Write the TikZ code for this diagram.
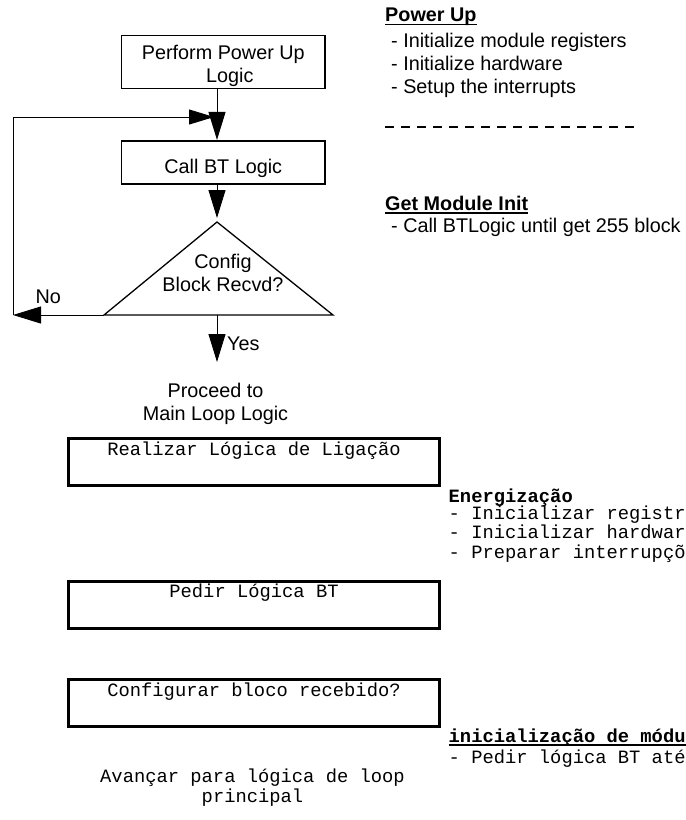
\documentclass[tikz,border=0pt]{standalone}
\usepackage{fontspec}
\setmainfont{Liberation Sans}
\setmonofont{Liberation Mono}
\usetikzlibrary{arrows.meta}

% underline at a fixed offset below the baseline: #1 offset, #2 thickness, #3 text
\newsavebox\ulinebox
\newcommand\ulword[3]{\sbox\ulinebox{#3}\rlap{\rule[#1]{\wd\ulinebox}{#2}}\usebox\ulinebox}

\begin{document}
\begin{tikzpicture}[x=1pt,y=-1pt,
  sans/.style={font=\fontsize{19.8}{23}\selectfont, inner sep=0pt},
  mono/.style={font=\ttfamily\fontsize{18.8}{19.5}\selectfont, inner sep=0pt},
  flowbox/.style={draw, line width=1.7pt, minimum width=203.5pt, sans},
  monobox/.style={draw, line width=3pt, minimum width=371pt, minimum height=47pt,
    mono, text height=11pt, text depth=25pt},
  flow/.style={line width=1pt, -{Triangle[length=28pt,width=17pt]}},
  loopflow/.style={line width=1pt, -{Triangle[length=25pt,width=15pt]}},
  separator/.style={line width=2pt, dash pattern=on 9pt off 7pt}]
\useasboundingbox (0,0) rectangle (686,820);

% ---- flowchart ----
% multi-line nodes sit on the baseline of their last line
\coordinate (trunk) at (217,0);
\node[flowbox, minimum height=53pt, text height=41pt, text depth=0pt, align=center]
  (pwr) at (223.3,62) {Perform Power Up\\\hspace*{13pt}Logic};
\node[flowbox, minimum height=43.5pt, text height=21pt, text depth=0pt]
  (call) at (223.3,162.5) {Call BT Logic};

% decision triangle
\coordinate (apex) at (217,222);
\coordinate (bl) at (104,315);
\coordinate (br) at (333,315);
\draw[line width=1.3pt] (apex) -- (br) -- (bl) -- cycle;
\node[sans, anchor=base, align=center] (cfg) at (223,291) {Config\\Block Recvd?};

\draw[flow] (pwr.south -| trunk) -- (call.north -| trunk);
\draw[flow] (call.south -| trunk) -- ([yshift=4pt]apex);

% "No" branch loops back above the call box
\coordinate (nocorner) at (13,315);
\coordinate (join) at (214,117);
\draw[flow] (bl) -- (nocorner);
\draw[loopflow] (nocorner) |- (join);
\node[sans, anchor=base west] (nolbl) at (35.5,303) {No};

% "Yes" branch
\coordinate (yesend) at (217,362);
\draw[flow] (bl -| trunk) -- (yesend);
\node[sans, anchor=base west] (yeslbl) at (227,350) {Yes};
\node[sans, anchor=base, align=center] (proceed) at (215.5,420) {Proceed to\\Main Loop Logic};

% ---- notes ----
\node[sans, anchor=base west] (puhead) at (385,21.5)
  {\ulword{-3.7pt}{1.5pt}{\textbf{Power Up}}};
\node[sans, anchor=base west, align=left] (pulist) at (391,93)
  {- Initialize module registers\\- Initialize hardware\\- Setup the interrupts};
\draw[separator] (385,127) -- (635,127);
\node[sans, anchor=base west] (gmhead) at (385,210)
  {\ulword{-3.7pt}{1.5pt}{\textbf{Get Module Init}}};
\node[sans, anchor=base west] (gmlist) at (391,232) {- Call BTLogic until get 255 block};

% ---- Portuguese version ----
\node[monobox] (realizar) at (254,462) {Realizar Lógica de Ligação};
\node[monobox] (pedir) at (254,604.5) {Pedir Lógica BT};
\node[monobox] (configurar) at (254,703) {Configurar bloco recebido?};
\node[mono, font=\ttfamily\fontsize{18.8}{20}\selectfont, anchor=base, align=center]
  (avancar) at (252.5,802) {Avançar para lógica de loop\\principal};

\node[mono, anchor=base west] (enhead) at (448.5,502) {\textbf{Energização}};
\node[mono, anchor=base west, align=left] (enlist) at (448.5,558)
  {- Inicializar registradores\\- Inicializar hardware\\- Preparar interrupções};
\node[mono, anchor=base west] (inhead) at (448.5,742)
  {\ulword{-4pt}{1.6pt}{\textbf{inicialização de módulo}}};
\node[mono, anchor=base west] (inlist) at (448.5,763) {- Pedir lógica BT até obter};
\end{tikzpicture}
\end{document}
